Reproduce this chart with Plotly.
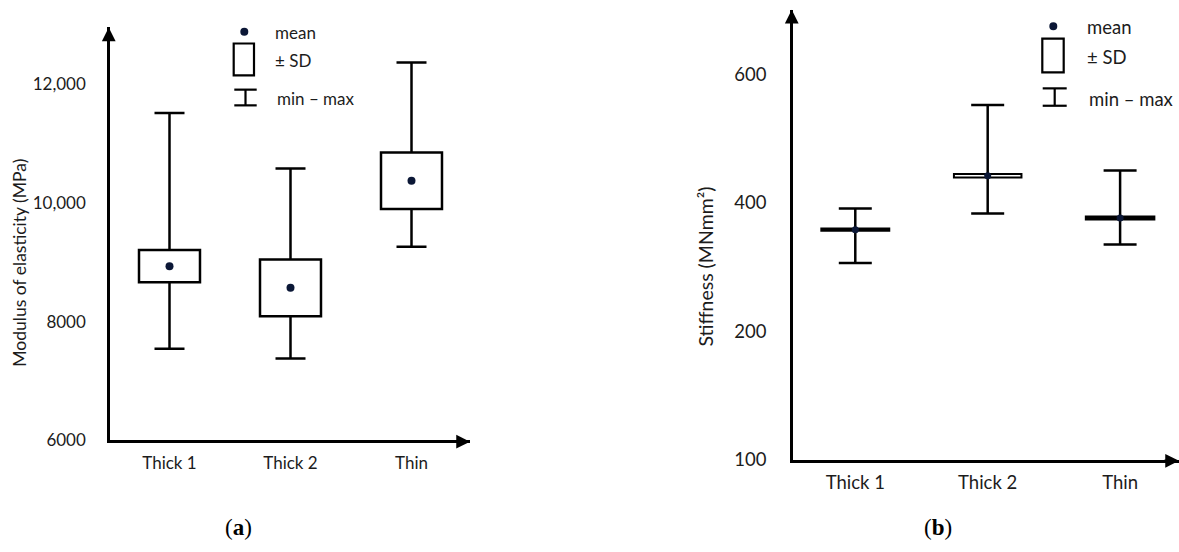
import numpy as np
import plotly.graph_objects as go

W, H = 1179, 552

categories = ["Thick 1", "Thick 2", "Thin"]

# (a) Modulus of elasticity (MPa)
moe_mean = [8935, 8570, 10375]
moe_sd = [273, 477, 476]
moe_min = [7545, 7380, 9260]
moe_max = [11515, 10580, 12365]
moe_ticks = [6000, 8000, 10000, 12000]
moe_ticktext = ["6000", "8000", "10,000", "12,000"]

# (b) Stiffness (MNmm²) – the axis in the original has equally spaced ticks
stiff_mean = [358, 442, 376]
stiff_sd = [1.5, 2.8, 1.5]
stiff_min = [306, 383, 335]
stiff_max = [391, 552, 450]
stiff_ticks = [100, 200, 400, 600]
stiff_ticktext = ["100", "200", "400", "600"]

FONT = "Lato"
TXT = "#1c1c1c"
DOT = "#0b1736"


def px(x):
    return x / W


def py(y):
    return 1 - y / H


def stiff_axis(v):
    # piecewise scale of panel (b): ticks 100, 200, 400, 600 equally spaced
    return np.interp(np.asarray(v, float), stiff_ticks, np.arange(len(stiff_ticks)))


m1, s1 = np.array(moe_mean, float), np.array(moe_sd, float)
mn1, mx1 = np.array(moe_min, float), np.array(moe_max, float)
m2, s2 = np.array(stiff_mean, float), np.array(stiff_sd, float)
mn2, mx2 = np.array(stiff_min, float), np.array(stiff_max, float)

fig = go.Figure()

# ---- panel (a): whiskers (min – max) on base axes
fig.add_trace(go.Scatter(
    x=categories, y=m1, mode="markers", marker=dict(size=1, opacity=0),
    error_y=dict(type="data", symmetric=False, array=mx1 - m1, arrayminus=m1 - mn1,
                 width=15, thickness=2.5, color="black"),
    xaxis="x", yaxis="y", showlegend=False, hoverinfo="skip"))
# ±SD box and mean on overlay axes (drawn on top)
fig.add_trace(go.Bar(
    x=categories, base=m1 - s1, y=2 * s1, width=0.504,
    marker=dict(color="white", line=dict(color="black", width=2.5)),
    xaxis="x3", yaxis="y3", showlegend=False, hoverinfo="skip"))
fig.add_trace(go.Scatter(
    x=categories, y=m1, mode="markers", marker=dict(size=8, color=DOT),
    xaxis="x3", yaxis="y3", showlegend=False, hoverinfo="skip"))

# ---- panel (b)
fig.add_trace(go.Scatter(
    x=categories, y=stiff_axis(m2), mode="markers", marker=dict(size=1, opacity=0),
    error_y=dict(type="data", symmetric=False,
                 array=stiff_axis(mx2) - stiff_axis(m2),
                 arrayminus=stiff_axis(m2) - stiff_axis(mn2),
                 width=16.5, thickness=2.5, color="black"),
    xaxis="x2", yaxis="y2", showlegend=False, hoverinfo="skip"))
fig.add_trace(go.Bar(
    x=categories, base=stiff_axis(m2 - s2),
    y=stiff_axis(m2 + s2) - stiff_axis(m2 - s2), width=0.51,
    marker=dict(color="white", line=dict(color="black", width=[2.4, 2.0, 3.0])),
    xaxis="x4", yaxis="y4", showlegend=False, hoverinfo="skip"))
fig.add_trace(go.Scatter(
    x=categories, y=stiff_axis(m2), mode="markers", marker=dict(size=7, color=DOT),
    xaxis="x4", yaxis="y4", showlegend=False, hoverinfo="skip"))

axis_common = dict(showline=True, linecolor="black", linewidth=2.5,
                   showgrid=False, zeroline=False, ticks="", fixedrange=True)

xr1 = [-0.4917, 2.4835]
yr1 = [6000, 12956]
xr2 = [-0.4705, 2.4449]
yr2 = [0, 3.5015]
cat_kw = dict(type="category", categoryorder="array", categoryarray=categories)

fig.update_layout(
    width=W, height=H,
    margin=dict(l=0, r=0, t=0, b=0),
    paper_bgcolor="white", plot_bgcolor="white",
    font=dict(family=FONT, color=TXT),
    barmode="overlay",
    xaxis=dict(domain=[px(110), px(470)], anchor="y", range=xr1,
               tickfont=dict(size=17, family=FONT, color=TXT),
               ticklabelstandoff=5, **cat_kw, **axis_common),
    yaxis=dict(domain=[py(448.5), py(28)], anchor="x",
               range=yr1, tickvals=moe_ticks, ticktext=moe_ticktext,
               tickfont=dict(size=17, family=FONT, color=TXT),
               ticklabelstandoff=18, **axis_common),
    xaxis3=dict(overlaying="x", anchor="y3", range=xr1, visible=False,
                fixedrange=True, **cat_kw),
    yaxis3=dict(overlaying="y", anchor="x3", range=yr1, visible=False,
                fixedrange=True),
    xaxis2=dict(domain=[px(793), 1.0], anchor="y2", range=xr2,
                tickfont=dict(size=18.5, family=FONT, color=TXT),
                ticklabelstandoff=5, **cat_kw, **axis_common),
    yaxis2=dict(domain=[py(468), py(10)], anchor="x2",
                range=yr2, tickvals=list(range(len(stiff_ticks))),
                ticktext=stiff_ticktext,
                tickfont=dict(size=18.5, family=FONT, color=TXT),
                ticklabelstandoff=20, **axis_common),
    xaxis4=dict(overlaying="x2", anchor="y4", range=xr2, visible=False,
                fixedrange=True, **cat_kw),
    yaxis4=dict(overlaying="y2", anchor="x4", range=yr2, visible=False,
                fixedrange=True),
)

ann = []
shapes = []

# axis arrowheads
for xr, yr in (("x domain", "y domain"), ("x2 domain", "y2 domain")):
    ann.append(dict(x=0, y=1, xref=xr, yref=yr, ax=0, ay=16, text="",
                    showarrow=True, arrowhead=2, arrowsize=1.1, arrowwidth=2.5,
                    arrowcolor="black", xshift=-1.25))
    ann.append(dict(x=1, y=0, xref=xr, yref=yr, ax=-16, ay=0, text="",
                    showarrow=True, arrowhead=2, arrowsize=1.1, arrowwidth=2.5,
                    arrowcolor="black", yshift=-1.25))

# axis titles
ann.append(dict(x=px(19.5), y=py(268), xref="paper", yref="paper",
                text="Modulus of elasticity (MPa)", textangle=-90, showarrow=False,
                font=dict(size=17.5, family=FONT, color=TXT),
                xanchor="center", yanchor="middle"))
ann.append(dict(x=px(705.5), y=py(272), xref="paper", yref="paper",
                text="Stiffness (MNmm²)", textangle=-90, showarrow=False,
                font=dict(size=19.5, family=FONT, color=TXT),
                xanchor="center", yanchor="middle"))

# captions
for cx, lab in ((238, "a"), (937.5, "b")):
    ann.append(dict(x=px(cx), y=py(537.7), xref="paper", yref="paper",
                    text=f"(<b>{lab}</b>)", showarrow=False,
                    font=dict(size=23, family="Liberation Serif", color="black"),
                    xanchor="center", yanchor="middle"))

# legends
legends = [
    dict(dot=(244.3, 32.3), dr=4, mean_txt=(272.7, 33.3),
         rect=(233.7, 44.3, 254, 76.7), sd_txt=(272.7, 61.7),
         wh=(234.3, 256.7, 91.3, 107.3), mm_txt=(275, 100.7), fs=17),
    dict(dot=(1053.3, 26.7), dr=4, mean_txt=(1085, 27.3),
         rect=(1042.3, 39.3, 1063.7, 73.7), sd_txt=(1085, 58.3),
         wh=(1042.7, 1066.7, 90, 107.7), mm_txt=(1087.3, 100.7), fs=18.5),
]
for L in legends:
    cx, cy = L["dot"]
    r = L["dr"]
    shapes.append(dict(type="circle", xref="paper", yref="paper",
                       x0=px(cx - r), x1=px(cx + r), y0=py(cy + r), y1=py(cy - r),
                       fillcolor=DOT, line=dict(width=0)))
    x0, y0, x1, y1 = L["rect"]
    shapes.append(dict(type="rect", xref="paper", yref="paper",
                       x0=px(x0), x1=px(x1), y0=py(y1), y1=py(y0),
                       line=dict(color="black", width=2.2), fillcolor="white"))
    wx0, wx1, wy0, wy1 = L["wh"]
    wm = (wx0 + wx1) / 2
    for yy in (wy0, wy1):
        shapes.append(dict(type="line", xref="paper", yref="paper",
                           x0=px(wx0), x1=px(wx1), y0=py(yy), y1=py(yy),
                           line=dict(color="black", width=2.2)))
    shapes.append(dict(type="line", xref="paper", yref="paper",
                       x0=px(wm), x1=px(wm), y0=py(wy0), y1=py(wy1),
                       line=dict(color="black", width=2.2)))
    for (tx, ty), t in ((L["mean_txt"], "mean"), (L["sd_txt"], "± SD"),
                        (L["mm_txt"], "min – max")):
        ann.append(dict(x=px(tx), y=py(ty), xref="paper", yref="paper",
                        text=t, showarrow=False, xanchor="left", yanchor="middle",
                        font=dict(size=L["fs"], family=FONT, color=TXT)))

fig.update_layout(annotations=ann, shapes=shapes)

fig.write_html("out.html")
